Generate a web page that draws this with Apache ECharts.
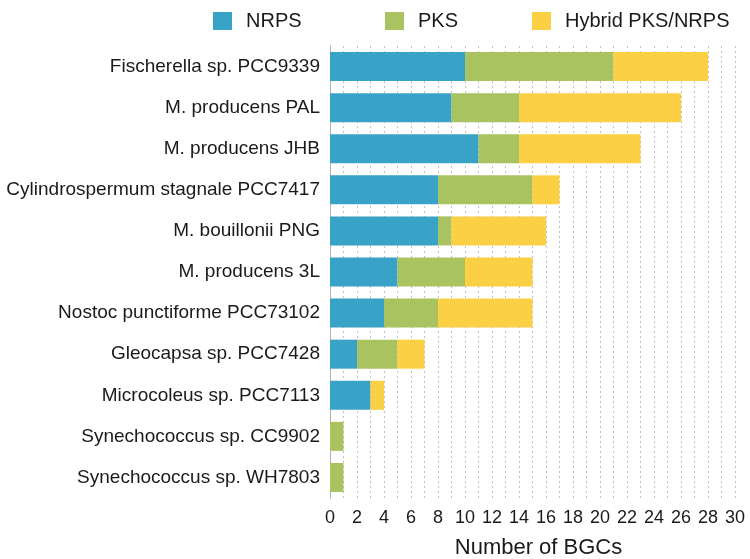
<!DOCTYPE html>
<html>
<head>
<meta charset="utf-8">
<script src="https://cdn.jsdelivr.net/npm/echarts@6/dist/echarts.min.js"></script>
<style>
html,body{margin:0;padding:0;background:#fff;}
#chart{width:750px;height:559px;}
</style>
</head>
<body>
<div id="chart"></div>
<script>
const categories = [
  "Fischerella sp. PCC9339",
  "M. producens PAL",
  "M. producens JHB",
  "Cylindrospermum stagnale PCC7417",
  "M. bouillonii PNG",
  "M. producens 3L",
  "Nostoc punctiforme PCC73102",
  "Gleocapsa sp. PCC7428",
  "Microcoleus sp. PCC7113",
  "Synechococcus sp. CC9902",
  "Synechococcus sp. WH7803"
];
const nrps   = [10, 9, 11, 8, 8, 5, 4, 2, 3, 0, 0];
const pks    = [11, 5, 3, 7, 1, 5, 4, 3, 0, 1, 1];
const hybrid = [7, 12, 9, 2, 7, 5, 7, 2, 1, 0, 0];
const seriesNames = ["NRPS", "PKS", "Hybrid PKS/NRPS"];
const colors = ["#38A2C7", "#A9C360", "#FCD044"];
const xMin = 0, xMax = 30, xInterval = 2;

const FONT = "Liberation Sans, Arial, Helvetica, sans-serif";
const chart = echarts.init(document.getElementById('chart'), null, {renderer: 'canvas'});

const legendLefts = [208, 380, 527];
const legends = seriesNames.map((n, i) => ({
  data: [n],
  left: legendLefts[i],
  top: 6,
  itemWidth: 19,
  itemHeight: 18,
  icon: 'rect',
  selectedMode: false,
  textStyle: {fontFamily: FONT, fontSize: 20, color: '#1a1a1a', padding: [0, 0, 0, 9]}
}));

const gridLine = {show: true, lineStyle: {color: '#c0c0c0', type: [2, 3], width: 1}};

const option = {
  backgroundColor: '#fff',
  animation: false,
  color: colors,
  legend: legends,
  grid: {left: 330, right: 15, top: 46, bottom: 61, containLabel: false, outerBoundsMode: 'none'},
  xAxis: {
    type: 'value',
    min: xMin, max: xMax, interval: xInterval,
    name: 'Number of BGCs',
    nameLocation: 'middle',
    nameGap: 39,
    nameTextStyle: {fontFamily: FONT, fontSize: 22, color: '#1a1a1a', padding: [0, 0, 0, 12]},
    axisLine: {show: false},
    axisTick: {show: false},
    axisLabel: {fontFamily: FONT, fontSize: 18, color: '#1a1a1a', margin: 11},
    splitLine: gridLine,
    minorTick: {show: false, splitNumber: 2},
    minorSplitLine: gridLine
  },
  yAxis: {
    type: 'category',
    data: categories,
    inverse: true,
    axisLine: {show: true, lineStyle: {color: '#b0b0b0', width: 1}},
    axisTick: {show: false},
    axisLabel: {fontFamily: FONT, fontSize: 19, color: '#1a1a1a', margin: 10},
    splitLine: {show: false}
  },
  series: [nrps, pks, hybrid].map((d, i) => ({
    name: seriesNames[i],
    type: 'bar',
    stack: 'total',
    data: d,
    barWidth: 29,
    itemStyle: {color: colors[i]}
  }))
};
chart.setOption(option);
</script>
</body>
</html>
